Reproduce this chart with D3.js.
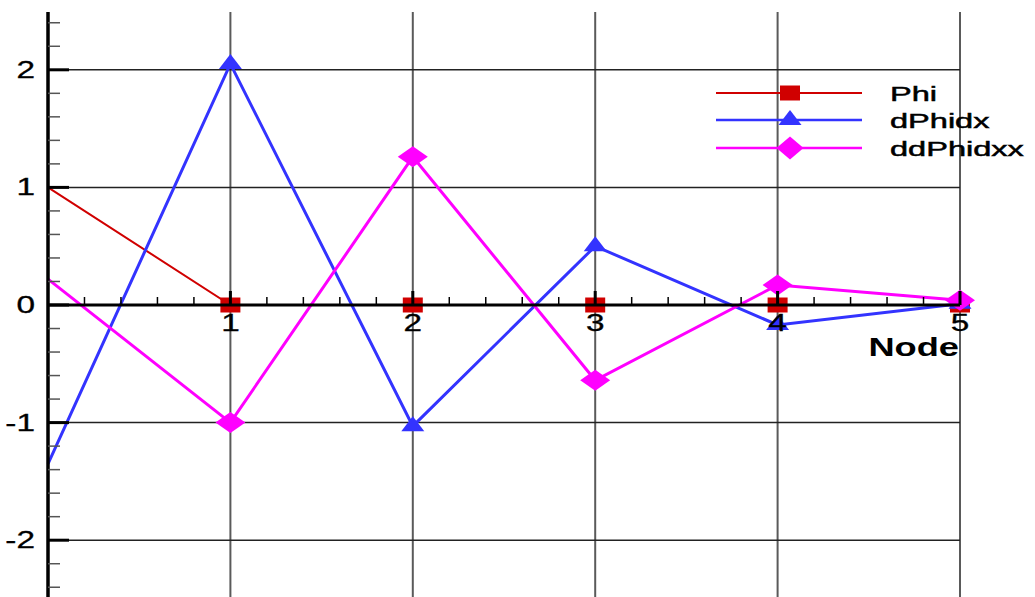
<!DOCTYPE html>
<html>
<head>
<meta charset="utf-8">
<script src="https://cdn.jsdelivr.net/npm/d3@7"></script>
<style>
  html, body { margin: 0; padding: 0; background: #fff; }
  svg { display: block; }
  text { font-family: "Liberation Sans", Arial, sans-serif; }
</style>
</head>
<body>
<svg id="chart" width="1035" height="597"></svg>
<script>
// Node positions and nodal values of Phi and its derivatives
const nodes = [0, 1, 2, 3, 4, 5];
const phi = [1, 0, 0, 0, 0, 0];
const dPhidx = [-1.35, 2.05, -1.03, 0.5, -0.17, 0.01];
const ddPhidxx = [0.22, -1.0, 1.26, -0.64, 0.17, 0.04];

const xTickValues = [1, 2, 3, 4, 5];
const yTickValues = [-2, -1, 0, 1, 2];
const seriesNames = ["Phi", "dPhidx", "ddPhidxx"];

const series = [
  { name: seriesNames[0], values: phi, color: "#d00000", width: 2, marker: "square" },
  { name: seriesNames[1], values: dPhidx, color: "#3333ff", width: 3, marker: "triangle" },
  { name: seriesNames[2], values: ddPhidxx, color: "#ff00ff", width: 3, marker: "diamond" }
];

const svg = d3.select("#chart");
const STRETCH = 1.45; // horizontal stretch of glyphs

const x = d3.scaleLinear().domain([0, 5]).range([48, 960]);
const y = d3.scaleLinear().domain([-2.5, 2.5]).range([599, 11]);
const plotTop = 12, plotBottom = 597;

// Marker shapes (wider than tall)
function markerPath(type) {
  if (type === "square") return "M-10,-7.5H10V7.5H-10Z";
  if (type === "triangle") return "M0,-10L11.5,5H-11.5Z";
  return "M0,-10.5L15,0L0,10.5L-15,0Z";
}

// Grid lines
const grid = svg.append("g");
grid.selectAll("line.v").data(xTickValues).join("line")
  .attr("x1", d => x(d)).attr("x2", d => x(d))
  .attr("y1", plotTop).attr("y2", plotBottom)
  .attr("stroke", "#5a5a5a").attr("stroke-width", 2);
grid.selectAll("line.h").data(yTickValues.filter(d => d !== 0)).join("line")
  .attr("x1", x(0)).attr("x2", x(5))
  .attr("y1", d => y(d)).attr("y2", d => y(d))
  .attr("stroke", "#222").attr("stroke-width", 1.5);

// Series lines
const line = d3.line().x((d, i) => x(nodes[i])).y(d => y(d));
const dataG = svg.append("g");
series.forEach(s => {
  dataG.append("path").datum(s.values)
    .attr("d", line)
    .attr("fill", "none")
    .attr("stroke", s.color)
    .attr("stroke-width", s.width)
    .attr("stroke-linejoin", "miter");
});
series.forEach(s => {
  dataG.selectAll(null).data(s.values.map((v, i) => [nodes[i], v]).filter(d => d[0] > 0))
    .join("path")
    .attr("d", markerPath(s.marker))
    .attr("transform", d => `translate(${x(d[0])},${y(d[1])})`)
    .attr("fill", s.color);
});

// Axes
const axes = svg.append("g");
// y axis
axes.append("line").attr("x1", x(0)).attr("x2", x(0))
  .attr("y1", plotTop).attr("y2", plotBottom)
  .attr("stroke", "#000").attr("stroke-width", 3.5);
const yMinor = d3.range(-24, 25, 2).filter(k => k % 10 !== 0).map(k => k / 10);
axes.selectAll("line.ymin").data(yMinor).join("line")
  .attr("x1", x(0)).attr("x2", x(0) + 12)
  .attr("y1", d => y(d)).attr("y2", d => y(d))
  .attr("stroke", "#555").attr("stroke-width", 1.5);
axes.selectAll("line.ymaj").data(yTickValues).join("line")
  .attr("x1", x(0)).attr("x2", x(0) + 21)
  .attr("y1", d => y(d)).attr("y2", d => y(d))
  .attr("stroke", "#000").attr("stroke-width", 3);
axes.selectAll("text.ylab").data(yTickValues).join("text")
  .attr("transform", d => `translate(35,${y(d) + 8}) scale(${STRETCH},1)`)
  .attr("text-anchor", "end")
  .attr("font-size", 23)
  .attr("stroke", "#000").attr("stroke-width", 0.3)
  .text(d => d);

// x axis along y = 0
axes.append("line").attr("x1", x(0)).attr("x2", x(5))
  .attr("y1", y(0)).attr("y2", y(0))
  .attr("stroke", "#000").attr("stroke-width", 3);
const xMinor = d3.range(1, 25).filter(k => k % 5 !== 0).map(k => k / 5);
axes.selectAll("line.xmin").data(xMinor).join("line")
  .attr("x1", d => x(d)).attr("x2", d => x(d))
  .attr("y1", y(0)).attr("y2", y(0) - 8)
  .attr("stroke", "#000").attr("stroke-width", 1.5);
axes.selectAll("line.xmaj").data(xTickValues).join("line")
  .attr("x1", d => x(d)).attr("x2", d => x(d))
  .attr("y1", y(0)).attr("y2", y(0) - 14)
  .attr("stroke", "#000").attr("stroke-width", 3);
axes.selectAll("text.xlab").data(xTickValues).join("text")
  .attr("transform", d => `translate(${x(d)},331) scale(${STRETCH},1)`)
  .attr("text-anchor", "middle")
  .attr("font-size", 23)
  .attr("stroke", "#000").attr("stroke-width", 0.3)
  .text(d => d);
axes.append("text")
  .attr("transform", `translate(959,356) scale(${STRETCH},1)`)
  .attr("text-anchor", "end")
  .attr("font-size", 25)
  .attr("font-weight", "bold")
  .text("Node");

// Legend
const legend = svg.append("g");
const legendY = [93, 120, 148];
series.forEach((s, i) => {
  const g = legend.append("g").attr("transform", `translate(0,${legendY[i]})`);
  g.append("line").attr("x1", 716).attr("x2", 862).attr("y1", 0).attr("y2", 0)
    .attr("stroke", s.color).attr("stroke-width", s.width === 2 ? 2 : 2.5);
  g.append("path").attr("d", markerPath(s.marker))
    .attr("transform", s.marker === "diamond" ? "translate(790,0) scale(0.9,1.1)" : "translate(790,0)")
    .attr("fill", s.color);
  g.append("text")
    .attr("transform", `translate(890,7.5) scale(1.55,1)`)
    .attr("font-size", 21)
    .attr("stroke", "#000").attr("stroke-width", 0.5)
    .text(s.name);
});
</script>
</body>
</html>
